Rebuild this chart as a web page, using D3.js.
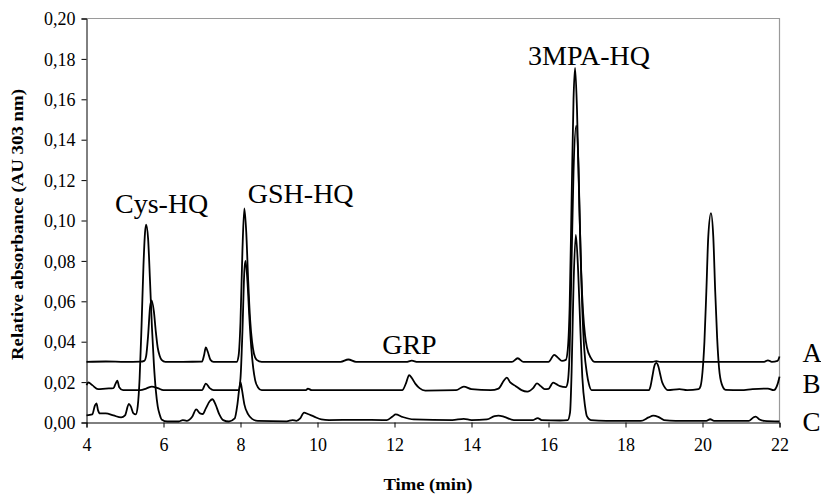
<!DOCTYPE html>
<html>
<head>
<meta charset="utf-8">
<script src="https://cdn.jsdelivr.net/npm/d3@7"></script>
<style>
  body { margin: 0; background: #fff; }
</style>
</head>
<body>
<div id="chart"></div>
<script>
// [time (min), absorbance (AU)]
const traceA = [
  [4.0, 0.0300], [4.5, 0.0302], [5.0, 0.0300], [5.4, 0.0301], [5.5, 0.0305],
  [5.55, 0.033], [5.6, 0.043], [5.65, 0.057], [5.69, 0.0605], [5.75, 0.055],
  [5.8, 0.045], [5.85, 0.037], [5.9, 0.033], [5.95, 0.031], [6.05, 0.030],
  [6.5, 0.030], [7.0, 0.0302], [7.05, 0.033], [7.1, 0.0372], [7.15, 0.035],
  [7.22, 0.031], [7.3, 0.030], [7.9, 0.030], [7.95, 0.033], [8.0, 0.050],
  [8.05, 0.085], [8.1, 0.106], [8.15, 0.094], [8.2, 0.070], [8.25, 0.051],
  [8.3, 0.040], [8.35, 0.034], [8.42, 0.031], [8.55, 0.030], [10.6, 0.030],
  [10.8, 0.0312], [11.0, 0.030], [12.3, 0.030], [12.45, 0.0306], [12.6, 0.030],
  [15.05, 0.030], [15.2, 0.0318], [15.35, 0.030], [16.0, 0.030], [16.15, 0.0335],
  [16.25, 0.032], [16.35, 0.0305], [16.45, 0.031], [16.5, 0.036], [16.55, 0.058],
  [16.6, 0.110], [16.65, 0.160], [16.69, 0.1756], [16.74, 0.155], [16.8, 0.108],
  [16.85, 0.074], [16.9, 0.054], [16.95, 0.043], [17.0, 0.037], [17.1, 0.032],
  [17.2, 0.030], [18.7, 0.030], [18.8, 0.0304], [18.9, 0.030], [21.6, 0.030],
  [21.7, 0.0308], [21.8, 0.030], [21.95, 0.0305], [22.0, 0.0327],
];
const traceB = [
  [4.0, 0.0185], [4.05, 0.0198], [4.15, 0.0185], [4.3, 0.0165], [4.5, 0.0168],
  [4.7, 0.017], [4.75, 0.019], [4.8, 0.0207], [4.85, 0.0175], [4.95, 0.016],
  [5.4, 0.016], [5.55, 0.0168], [5.7, 0.0178], [5.85, 0.017], [6.0, 0.016],
  [7.0, 0.016], [7.1, 0.0192], [7.2, 0.017], [7.3, 0.016], [7.95, 0.016],
  [8.0, 0.022], [8.05, 0.045], [8.1, 0.075], [8.13, 0.080], [8.18, 0.070],
  [8.23, 0.052], [8.28, 0.037], [8.33, 0.027], [8.38, 0.021], [8.45, 0.0175],
  [8.55, 0.016], [9.7, 0.016], [9.75, 0.0168], [9.85, 0.016], [12.2, 0.016],
  [12.3, 0.0195], [12.38, 0.0235], [12.45, 0.022], [12.55, 0.019], [12.65, 0.017],
  [12.8, 0.0158], [13.6, 0.016], [13.8, 0.0178], [14.0, 0.0165], [14.5, 0.016],
  [14.7, 0.0168], [14.85, 0.021], [14.92, 0.0222], [15.0, 0.020], [15.15, 0.018],
  [15.3, 0.016], [15.45, 0.0153], [15.6, 0.017], [15.7, 0.0194], [15.8, 0.018],
  [15.9, 0.0165], [16.0, 0.0167], [16.12, 0.0197], [16.2, 0.019], [16.3, 0.018],
  [16.45, 0.0175], [16.5, 0.020], [16.55, 0.036], [16.6, 0.080], [16.65, 0.124],
  [16.72, 0.147], [16.78, 0.126], [16.83, 0.086], [16.88, 0.055], [16.93, 0.036],
  [17.0, 0.024], [17.05, 0.019], [17.12, 0.016], [18.6, 0.016], [18.65, 0.018],
  [18.7, 0.023], [18.75, 0.028], [18.8, 0.0295], [18.85, 0.028], [18.9, 0.024],
  [18.95, 0.020], [19.0, 0.018], [19.1, 0.016], [19.4, 0.0165], [19.6, 0.016],
  [19.9, 0.0165], [19.95, 0.018], [20.0, 0.025], [20.05, 0.040], [20.1, 0.065],
  [20.15, 0.092], [20.22, 0.1037], [20.28, 0.092], [20.33, 0.065], [20.38, 0.042],
  [20.43, 0.027], [20.5, 0.019], [20.6, 0.0162], [21.0, 0.016], [21.3, 0.0165],
  [21.7, 0.0168], [21.85, 0.016], [21.95, 0.019], [22.0, 0.0227],
];
const traceC = [
  [4.0, 0.0035], [4.15, 0.004], [4.22, 0.0085], [4.26, 0.0095], [4.3, 0.006],
  [4.35, 0.0045], [4.5, 0.0045], [4.7, 0.0035], [4.9, 0.0025], [5.0, 0.0035],
  [5.1, 0.0092], [5.15, 0.008], [5.22, 0.0045], [5.28, 0.004], [5.33, 0.008],
  [5.38, 0.022], [5.43, 0.048], [5.48, 0.078], [5.52, 0.094], [5.55, 0.098],
  [5.6, 0.091], [5.65, 0.070], [5.7, 0.047], [5.75, 0.029], [5.8, 0.016],
  [5.85, 0.008], [5.9, 0.004], [5.95, 0.0015], [6.1, 0.0005], [6.4, 0.0005],
  [6.5, 0.0012], [6.6, 0.0008], [6.75, 0.003], [6.85, 0.0065], [6.95, 0.0045],
  [7.02, 0.0042], [7.1, 0.007], [7.2, 0.0105], [7.27, 0.0115], [7.35, 0.009],
  [7.45, 0.004], [7.55, 0.0012], [7.7, 0.0005], [7.85, 0.002], [7.92, 0.009],
  [7.97, 0.017], [8.0, 0.020], [8.04, 0.016], [8.1, 0.009], [8.2, 0.004],
  [8.3, 0.0018], [8.45, 0.0008], [9.2, 0.0006], [9.35, 0.0012], [9.45, 0.0008],
  [9.55, 0.002], [9.65, 0.0049], [9.75, 0.0042], [9.9, 0.003], [10.1, 0.0015],
  [10.3, 0.0012], [11.0, 0.0013], [11.8, 0.0012], [11.95, 0.003], [12.03, 0.004],
  [12.2, 0.0028], [12.5, 0.0015], [13.5, 0.0012], [13.8, 0.0018], [14.0, 0.0012],
  [14.4, 0.0015], [14.6, 0.0032], [14.7, 0.0034], [14.85, 0.0028], [15.1, 0.0012],
  [15.6, 0.0012], [15.72, 0.0022], [15.82, 0.0012], [16.3, 0.001], [16.5, 0.0012],
  [16.56, 0.005], [16.6, 0.025], [16.65, 0.068], [16.71, 0.0929], [16.77, 0.075],
  [16.83, 0.045], [16.88, 0.022], [16.95, 0.008], [17.0, 0.003], [17.1, 0.0012],
  [17.5, 0.0008], [18.4, 0.0008], [18.6, 0.0025], [18.72, 0.0034], [18.85, 0.0028],
  [19.0, 0.0012], [19.3, 0.0008], [20.1, 0.0008], [20.2, 0.0016], [20.3, 0.0008],
  [21.2, 0.0008], [21.32, 0.0025], [21.38, 0.0029], [21.48, 0.0015], [21.6, 0.0008],
  [22.0, 0.0005],
];

const xTicks = [4, 6, 8, 10, 12, 14, 16, 18, 20, 22];
const yTicks = [0, 0.02, 0.04, 0.06, 0.08, 0.10, 0.12, 0.14, 0.16, 0.18, 0.20];

// peak names and where their text starts: [time, absorbance of text baseline]
const peakNames = ['Cys-HQ', 'GSH-HQ', 'GRP', '3MPA-HQ'];
const peakAnchors = [[4.74, 0.1038], [8.19, 0.1088], [11.68, 0.0340], [15.47, 0.1770]];
const traceNames = ['A', 'B', 'C'];

const width = 821;
const height = 494;
const margin = {top: 18.5, right: 41.5, bottom: 71.5, left: 86.5};
const serif = '\'Liberation Serif\', \'Times New Roman\', Times, serif';

const svg = d3.select('#chart').append('svg')
    .attr('width', width)
    .attr('height', height)
    .style('font-family', serif);

const x = d3.scaleLinear()
    .domain([4, 22])
    .range([margin.left, width - margin.right]);
const y = d3.scaleLinear()
    .domain([0, 0.2])
    .range([height - margin.bottom, margin.top]);

// plot frame: grey top and right edge
svg.append('path')
    .attr('d', `M${x(4)},${y(0.2)}H${x(22)}V${y(0)}`)
    .attr('fill', 'none')
    .attr('stroke', '#9a9a9a')
    .attr('stroke-width', 1.2);

const xAxis = svg.append('g')
    .attr('transform', `translate(0,${y(0)})`)
    .call(d3.axisBottom(x).tickValues(xTicks).tickSize(5).tickPadding(11));
const yAxis = svg.append('g')
    .attr('transform', `translate(${x(4)},0)`)
    .call(d3.axisLeft(y).tickValues(yTicks).tickSize(5).tickPadding(6)
        .tickFormat((d) => d3.format('.2f')(d).replace('.', ',')));

[xAxis, yAxis].forEach((axis) => {
  axis.attr('font-family', null).attr('font-size', null);
  axis.selectAll('path, line').attr('stroke', '#000');
  axis.selectAll('text')
      .style('font-family', serif)
      .style('font-size', '18px')
      .attr('fill', '#000');
});
yAxis.selectAll('text').attr('dy', '0.34em');

const line = d3.line()
    .x((d) => x(d[0]))
    .y((d) => y(d[1]))
    .curve(d3.curveMonotoneX);

svg.append('g').attr('name', 'traces')
    .selectAll('path')
    .data([traceA, traceB, traceC])
    .enter()
    .append('path')
    .attr('d', line)
    .attr('fill', 'none')
    .attr('stroke', '#000')
    .attr('stroke-width', 1.8)
    .attr('stroke-linejoin', 'round');

svg.append('g').attr('name', 'peak_labels')
    .selectAll('text')
    .data(peakNames)
    .enter()
    .append('text')
    .attr('x', (d, i) => x(peakAnchors[i][0]))
    .attr('y', (d, i) => y(peakAnchors[i][1]))
    .style('font-family', serif)
    .style('font-size', '28px')
    .text((d) => d);

// trace names sit on each trace's baseline, right of the plot
const traceEnds = [traceA, traceB, traceC].map((t) => t[0][1]);
svg.append('g').attr('name', 'trace_labels')
    .selectAll('text')
    .data(traceNames)
    .enter()
    .append('text')
    .attr('x', x(22) + 23)
    .attr('y', (d, i) => y(traceEnds[i]) + i * 8)
    .style('font-family', serif)
    .style('font-size', '27px')
    .text((d) => d);

svg.append('text')
    .attr('x', 428)
    .attr('y', 490)
    .attr('text-anchor', 'middle')
    .attr('textLength', 89)
    .attr('lengthAdjust', 'spacingAndGlyphs')
    .style('font-family', serif)
    .style('font-size', '16px')
    .style('font-weight', 'bold')
    .text('Time (min)');

svg.append('text')
    .attr('transform', `translate(23,${(y(0) + y(0.2)) / 2 + 4}) rotate(-90)`)
    .attr('text-anchor', 'middle')
    .attr('textLength', 271)
    .attr('lengthAdjust', 'spacingAndGlyphs')
    .style('font-family', serif)
    .style('font-size', '16px')
    .style('font-weight', 'bold')
    .text('Relative absorbance (AU 303 nm)');
</script>
</body>
</html>
